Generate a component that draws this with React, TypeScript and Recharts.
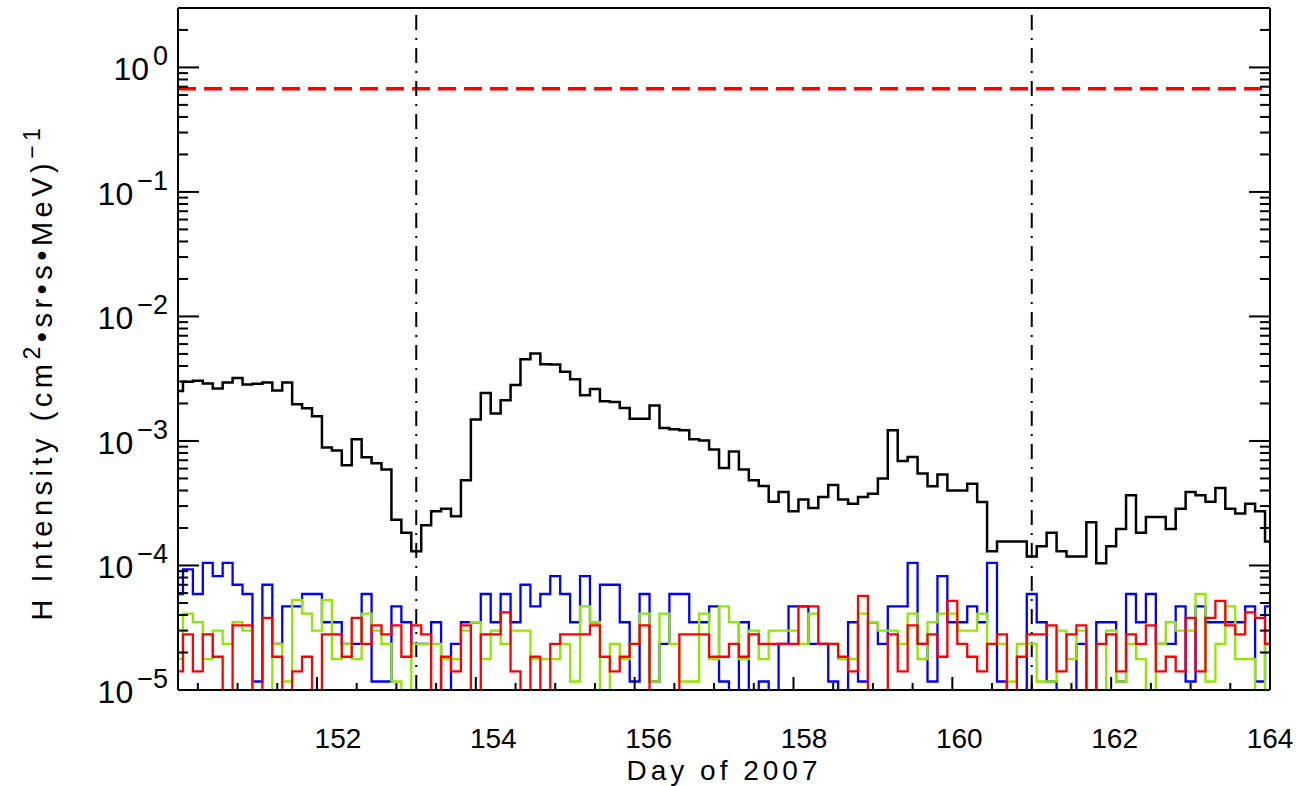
import React from "react";
import { LineChart, Line, XAxis, YAxis, ReferenceLine } from "recharts";

// 3-hour bins starting at day 150.25
const startDay = 150.25;
const binDays = 0.125;

const hTotal = [
  2.52e-3, 2.99e-3, 3.04e-3, 2.9e-3, 2.64e-3, 2.95e-3, 3.21e-3, 2.84e-3, 2.88e-3, 2.95e-3,
  2.54e-3, 2.95e-3, 1.97e-3, 1.83e-3, 1.58e-3, 8.85e-4, 8.37e-4, 6.38e-4, 1.03e-3, 7.4e-4,
  6.62e-4, 5.89e-4, 2.33e-4, 1.83e-4, 1.3e-4, 2.1e-4, 2.73e-4, 2.86e-4, 2.48e-4, 4.83e-4,
  1.49e-3, 2.43e-3, 1.66e-3, 2.12e-3, 2.81e-3, 4.54e-3, 5.05e-3, 4.14e-3, 4.12e-3, 3.59e-3,
  3.13e-3, 2.33e-3, 2.61e-3, 2.08e-3, 2.06e-3, 1.84e-3, 1.51e-3, 1.51e-3, 1.93e-3, 1.27e-3,
  1.24e-3, 1.22e-3, 1.03e-3, 1.01e-3, 8.53e-4, 6.07e-4, 8.22e-4, 5.89e-4, 4.83e-4, 4.35e-4,
  3.25e-4, 3.89e-4, 2.73e-4, 3.38e-4, 2.89e-4, 3.54e-4, 4.43e-4, 3.38e-4, 3.13e-4, 3.54e-4,
  3.77e-4, 4.99e-4, 1.22e-3, 6.9e-4, 7.43e-4, 5.47e-4, 4.32e-4, 5.37e-4, 4.01e-4, 4.01e-4,
  4.54e-4, 3.23e-4, 1.3e-4, 1.56e-4, 1.56e-4, 1.56e-4, 1.18e-4, 1.43e-4, 1.83e-4, 1.3e-4,
  1.18e-4, 1.18e-4, 2.22e-4, 1.04e-4, 1.43e-4, 1.96e-4, 3.66e-4, 1.83e-4, 2.45e-4, 2.45e-4,
  1.96e-4, 2.86e-4, 3.89e-4, 3.66e-4, 3.25e-4, 4.19e-4, 2.86e-4, 2.61e-4, 3.13e-4, 2.73e-4,
  1.56e-4,
];

// 0 = empty bin (falls below the axis)
const hBlue = [
  5.9e-5, 9.3e-5, 5.9e-5, 1.05e-4, 8.2e-5, 1.05e-4, 7.0e-5, 5.9e-5, 1.17e-5, 7.0e-5,
  2.35e-5, 4.7e-5, 4.7e-5, 5.9e-5, 5.9e-5, 3.5e-5, 3.5e-5, 2.35e-5, 2.35e-5, 5.9e-5,
  1.17e-5, 1.17e-5, 4.7e-5, 3.5e-5, 2.35e-5, 2.35e-5, 3.5e-5, 0, 2.35e-5, 3.5e-5,
  3.5e-5, 5.9e-5, 3.5e-5, 5.9e-5, 3.5e-5, 7.0e-5, 4.7e-5, 5.9e-5, 8.2e-5, 5.9e-5,
  3.5e-5, 8.2e-5, 3.5e-5, 7.0e-5, 7.0e-5, 3.5e-5, 1.17e-5, 5.9e-5, 1.17e-5, 2.35e-5,
  5.9e-5, 5.9e-5, 3.5e-5, 3.5e-5, 4.7e-5, 1.17e-5, 0, 3.5e-5, 0, 1.17e-5,
  0, 2.35e-5, 4.7e-5, 4.7e-5, 2.35e-5, 2.35e-5, 1.17e-5, 0, 3.5e-5, 1.17e-5,
  3.5e-5, 2.35e-5, 4.7e-5, 4.7e-5, 1.05e-4, 2.35e-5, 1.17e-5, 8.2e-5, 3.5e-5, 3.5e-5,
  4.7e-5, 3.5e-5, 1.05e-4, 1.17e-5, 0, 0, 5.9e-5, 3.5e-5, 1.17e-5, 0,
  0, 2.35e-5, 0, 3.5e-5, 3.5e-5, 1.17e-5, 5.9e-5, 3.5e-5, 5.9e-5, 2.35e-5,
  2.35e-5, 4.7e-5, 1.17e-5, 4.7e-5, 3.5e-5, 3.5e-5, 3.5e-5, 3.5e-5, 4.7e-5, 1.17e-5,
  4.7e-5,
];

const hGreen = [
  1.77e-5, 4.1e-5, 3.5e-5, 1.77e-5, 3.0e-5, 2.35e-5, 3.5e-5, 3.0e-5, 0, 0,
  2.35e-5, 1.17e-5, 5.3e-5, 4.1e-5, 3.0e-5, 5.3e-5, 1.77e-5, 2.35e-5, 1.77e-5, 4.1e-5,
  3.0e-5, 2.35e-5, 1.17e-5, 0, 2.35e-5, 2.35e-5, 2.35e-5, 1.77e-5, 1.77e-5, 3.0e-5,
  3.5e-5, 1.77e-5, 3.0e-5, 2.35e-5, 3.0e-5, 3.0e-5, 1.77e-5, 1.77e-5, 1.77e-5, 2.35e-5,
  1.17e-5, 4.7e-5, 3.5e-5, 0, 2.35e-5, 1.77e-5, 2.35e-5, 4.1e-5, 1.17e-5, 4.1e-5,
  2.35e-5, 1.17e-5, 1.17e-5, 4.1e-5, 1.77e-5, 4.7e-5, 3.5e-5, 1.77e-5, 3.0e-5, 1.77e-5,
  3.0e-5, 3.0e-5, 3.0e-5, 2.35e-5, 4.1e-5, 2.35e-5, 2.35e-5, 1.77e-5, 1.77e-5, 4.1e-5,
  3.5e-5, 3.0e-5, 3.0e-5, 2.35e-5, 4.1e-5, 1.77e-5, 3.5e-5, 4.1e-5, 4.1e-5, 3.0e-5,
  3.0e-5, 4.1e-5, 2.35e-5, 2.35e-5, 1.17e-5, 2.35e-5, 2.35e-5, 1.17e-5, 1.17e-5, 3.0e-5,
  1.77e-5, 3.0e-5, 0, 0, 3.0e-5, 1.17e-5, 2.35e-5, 1.77e-5, 0, 2.35e-5,
  3.5e-5, 3.0e-5, 3.0e-5, 5.9e-5, 1.17e-5, 2.35e-5, 4.7e-5, 1.77e-5, 1.77e-5, 0,
  2.35e-5,
];

const hRed = [
  1.41e-5, 2.8e-5, 1.41e-5, 2.8e-5, 1.85e-5, 0, 3.3e-5, 3.3e-5, 0, 3.8e-5,
  1.85e-5, 0, 1.41e-5, 1.85e-5, 0, 2.8e-5, 2.8e-5, 1.85e-5, 3.8e-5, 2.35e-5,
  3.3e-5, 2.8e-5, 3.3e-5, 1.85e-5, 3.3e-5, 2.8e-5, 0, 1.85e-5, 1.41e-5, 3.3e-5,
  0, 2.8e-5, 2.8e-5, 4.2e-5, 1.41e-5, 0, 1.85e-5, 0, 2.35e-5, 2.8e-5,
  2.8e-5, 2.8e-5, 3.3e-5, 1.85e-5, 1.41e-5, 1.85e-5, 2.35e-5, 3.3e-5, 0, 0,
  0, 2.8e-5, 2.8e-5, 2.8e-5, 1.85e-5, 1.85e-5, 2.35e-5, 1.85e-5, 2.8e-5, 2.35e-5,
  2.35e-5, 2.35e-5, 2.35e-5, 4.7e-5, 4.7e-5, 2.35e-5, 2.35e-5, 1.85e-5, 1.41e-5, 5.7e-5,
  0, 0, 2.8e-5, 1.41e-5, 3.3e-5, 2.35e-5, 2.8e-5, 1.85e-5, 5.2e-5, 2.35e-5,
  1.85e-5, 1.41e-5, 2.35e-5, 2.8e-5, 0, 1.85e-5, 2.8e-5, 2.8e-5, 3.3e-5, 1.41e-5,
  2.8e-5, 3.3e-5, 0, 2.35e-5, 2.8e-5, 1.41e-5, 2.8e-5, 2.35e-5, 3.3e-5, 1.41e-5,
  1.85e-5, 1.41e-5, 3.8e-5, 1.41e-5, 3.8e-5, 5.2e-5, 3.3e-5, 2.8e-5, 4.2e-5, 3.8e-5,
  2.35e-5,
];

const xTicks = [
  150.5, 151, 151.5, 152, 152.5, 153, 153.5, 154, 154.5, 155, 155.5, 156, 156.5, 157,
  157.5, 158, 158.5, 159, 159.5, 160, 160.5, 161, 161.5, 162, 162.5, 163, 163.5, 164,
];
const xLabels = [152, 154, 156, 158, 160, 162, 164];
const xEnd = 164;

const yTicks = [
  1e-5, 2e-5, 3e-5, 4e-5, 5e-5, 6e-5, 7e-5, 8e-5, 9e-5,
  1e-4, 2e-4, 3e-4, 4e-4, 5e-4, 6e-4, 7e-4, 8e-4, 9e-4,
  1e-3, 2e-3, 3e-3, 4e-3, 5e-3, 6e-3, 7e-3, 8e-3, 9e-3,
  1e-2, 2e-2, 3e-2, 4e-2, 5e-2, 6e-2, 7e-2, 8e-2, 9e-2,
  1e-1, 2e-1, 3e-1, 4e-1, 5e-1, 6e-1, 7e-1, 8e-1, 9e-1,
  1, 2, 3,
];

const eventDays = [153.25, 161.0];
const threshold = 0.675;

const EMPTY = 1e-6;
const rows = hTotal.map((v, i) => ({
  t: startDay + i * binDays,
  total: v,
  blue: hBlue[i] || EMPTY,
  green: hGreen[i] || EMPTY,
  red: hRed[i] || EMPTY,
}));

const FONT = "'Liberation Sans', Arial, Helvetica, sans-serif";

function isDecade(v: number) {
  const l = Math.log10(v);
  return Math.abs(l - Math.round(l)) < 1e-6;
}

// the original's day labels sit slightly to the right of their ticks,
// drifting more the further left they are
const labelDrift = 1.75;

function BottomTick(props: any) {
  const { x, y, payload } = props;
  const major = xLabels.includes(payload.value);
  return (
    <g>
      <line x1={x} x2={x} y1={y} y2={y - (major ? 13 : 7)} stroke="#000" strokeWidth={2} />
      {major && (
        <text
          x={x + (xEnd - payload.value) * labelDrift}
          y={y + 58}
          textAnchor="middle"
          fontSize={28}
          fontFamily={FONT}
          fill="#000"
        >
          {payload.value}
        </text>
      )}
    </g>
  );
}

function TopTick(props: any) {
  const { x, y, payload } = props;
  const major = xLabels.includes(payload.value);
  return <line x1={x} x2={x} y1={y} y2={y + (major ? 13 : 7)} stroke="#000" strokeWidth={2} />;
}

function LeftTick(props: any) {
  const { x, y, payload } = props;
  const v = payload.value;
  const major = isDecade(v);
  const exp = Math.round(Math.log10(v));
  return (
    <g>
      <line x1={x} x2={x + (major ? 21 : 10)} y1={y} y2={y} stroke="#000" strokeWidth={2} />
      {major && (
        <text x={168} y={y + 13} textAnchor="end" fontSize={32} fontFamily={FONT} fill="#000">
          10
          <tspan dx={4} dy={-15} fontSize={27}>
            {exp === 0 ? "0" : "\u2212" + -exp}
          </tspan>
        </text>
      )}
    </g>
  );
}

function RightTick(props: any) {
  const { x, y, payload } = props;
  const major = isDecade(payload.value);
  return <line x1={x} x2={x - (major ? 21 : 10)} y1={y} y2={y} stroke="#000" strokeWidth={2} />;
}

function XTitle(props: any) {
  const vb = props.viewBox;
  return (
    <text
      x={vb.x + vb.width / 2}
      y={vb.y + 90}
      textAnchor="middle"
      fontSize={28}
      letterSpacing={4}
      fontFamily={FONT}
      fill="#000"
    >
      Day of 2007
    </text>
  );
}

function YTitle() {
  return (
    <text
      x={0}
      y={0}
      transform="translate(52,372) rotate(-90)"
      textAnchor="middle"
      fontSize={29}
      letterSpacing={4.5}
      fontFamily={FONT}
      fill="#000"
    >
      H Intensity (cm
      <tspan dy={-12} fontSize={23}>2</tspan>
      <tspan dy={12}>{"\u2022sr\u2022s\u2022MeV)"}</tspan>
      <tspan dy={-12} fontSize={23}>{"\u22121"}</tspan>
    </text>
  );
}

export default function App() {
  return (
    <div style={{ position: "absolute", left: 0, top: 0, background: "#fff" }}>
      <LineChart width={1312} height={786} data={rows} margin={{ top: 7, right: 41, bottom: 0, left: 0 }}>
        <XAxis
          xAxisId="bottom"
          dataKey="t"
          type="number"
          domain={[startDay, xEnd]}
          allowDataOverflow
          ticks={xTicks}
          interval={0}
          height={96}
          tickSize={0}
          tickMargin={0}
          tick={<BottomTick />}
          axisLine={{ stroke: "#000", strokeWidth: 2 }}
          tickLine={false}
          label={<XTitle />}
        />
        <XAxis
          xAxisId="top"
          orientation="top"
          type="number"
          domain={[startDay, xEnd]}
          allowDataOverflow
          ticks={xTicks}
          interval={0}
          height={1}
          tickSize={0}
          tickMargin={0}
          tick={<TopTick />}
          axisLine={{ stroke: "#000", strokeWidth: 2 }}
          tickLine={false}
        />
        <YAxis
          yAxisId="left"
          scale="log"
          type="number"
          domain={[1e-5, 3]}
          allowDataOverflow
          ticks={yTicks}
          interval={0}
          width={178}
          tickSize={0}
          tickMargin={0}
          tick={<LeftTick />}
          axisLine={{ stroke: "#000", strokeWidth: 2 }}
          tickLine={false}
          label={<YTitle />}
        />
        <YAxis
          yAxisId="right"
          orientation="right"
          scale="log"
          type="number"
          domain={[1e-5, 3]}
          allowDataOverflow
          ticks={yTicks}
          interval={0}
          width={1}
          tickSize={0}
          tickMargin={0}
          tick={<RightTick />}
          axisLine={{ stroke: "#000", strokeWidth: 2 }}
          tickLine={false}
        />
        <ReferenceLine
          xAxisId="bottom"
          yAxisId="left"
          y={threshold}
          stroke="#ff0000"
          strokeWidth={3.5}
          strokeDasharray="18 8"
        />
        {eventDays.map((d) => (
          <ReferenceLine
            key={d}
            xAxisId="bottom"
            yAxisId="left"
            x={d}
            stroke="#000"
            strokeWidth={2}
            strokeDasharray="15 8 2 8"
          />
        ))}
        <Line xAxisId="bottom" yAxisId="left" type="step" dataKey="total" stroke="#000" strokeWidth={2.5} dot={false} isAnimationActive={false} />
        <Line xAxisId="bottom" yAxisId="left" type="step" dataKey="blue" stroke="#0000ff" strokeWidth={2.3} dot={false} isAnimationActive={false} />
        <Line xAxisId="bottom" yAxisId="left" type="step" dataKey="green" stroke="#8ee800" strokeWidth={2.3} dot={false} isAnimationActive={false} />
        <Line xAxisId="bottom" yAxisId="left" type="step" dataKey="red" stroke="#ff0000" strokeWidth={2.3} dot={false} isAnimationActive={false} />
      </LineChart>
    </div>
  );
}
